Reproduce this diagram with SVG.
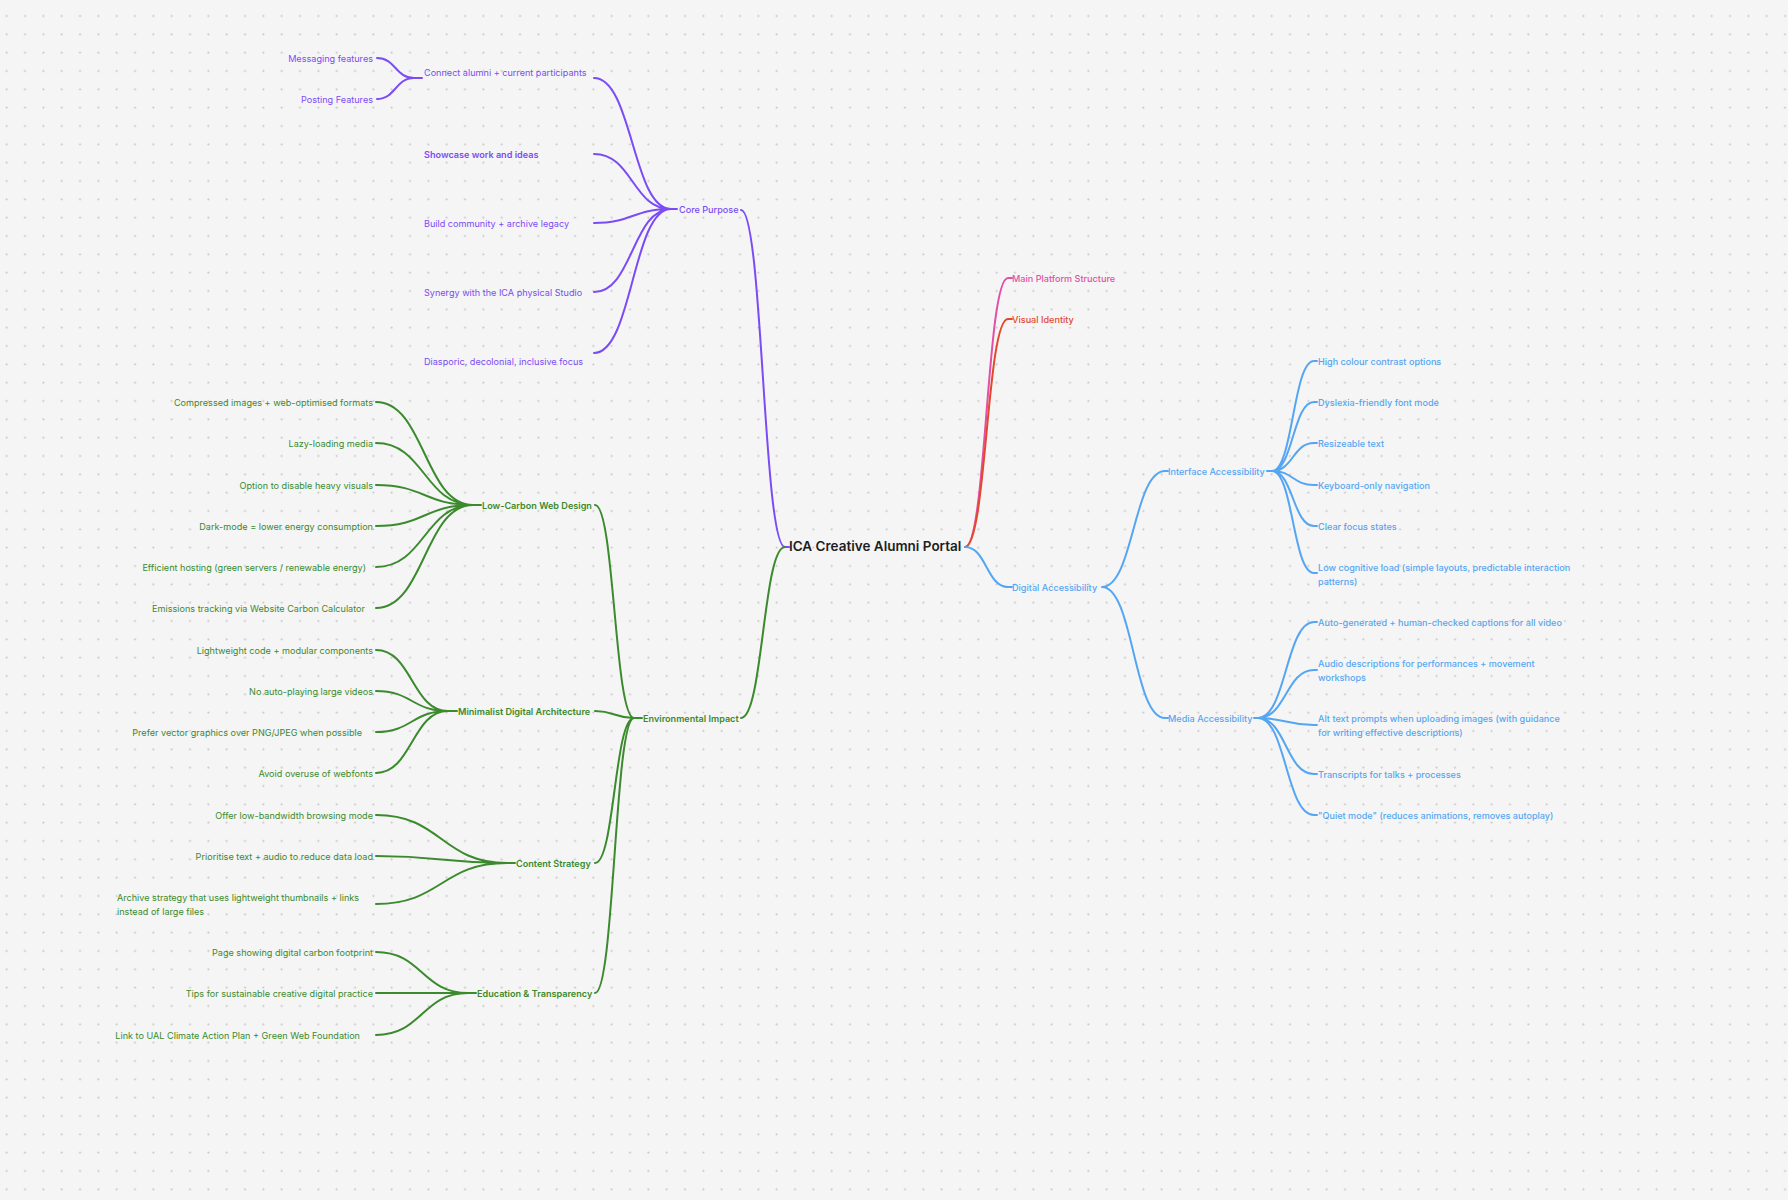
<svg xmlns="http://www.w3.org/2000/svg" width="1788" height="1200" viewBox="0 0 1788 1200">
<style>
text{font-family:Inter,"Liberation Sans",sans-serif;font-size:9.1px;dominant-baseline:central}
.p{fill:#7b4cf6}.g{fill:#3b8a2e}.b{fill:#55a6f2}.pk{fill:#e44fa6}.r{fill:#e2492c}
.sb{font-weight:600}.md{font-weight:500}
.root{font-size:13.5px;font-weight:600;fill:#1e1e1e}
.e{text-anchor:end}
path{fill:none;stroke-width:2;stroke-linecap:round}
.cp{stroke:#7b4cf6}.cg{stroke:#3b8a2e}.cb{stroke:#55a6f2}.cpk{stroke:#e44fa6}.cr{stroke:#e2492c}
</style>
<defs>
<pattern id="dots" patternUnits="userSpaceOnUse" x="-2.47" y="6.83" width="18.333" height="18.333">
<circle cx="9.17" cy="9.17" r="1" fill="#c2c2c2"/>
</pattern>
</defs>
<rect width="1788" height="1200" fill="#f5f5f5"/>
<rect width="1788" height="1200" fill="url(#dots)"/>

<g id="connectors">
<g class="cp">
<path d="M377 58 C395.5 58 395.5 78 414 78 M377 99 C395.5 99 395.5 78 414 78 M414 78 H422"/>
<path d="M594 78 C632.5 78 632.5 209 671 209 M594 154 C632.5 154 632.5 209 671 209 M594 223 C632.5 223 632.5 209 671 209 M594 292 C632.5 292 632.5 209 671 209 M594 353 C632.5 353 632.5 209 671 209 M671 209 H677"/>
<path d="M741 210 C763 210 763 547 785 547 H789"/>
</g>
<g class="cg">
<path d="M376 402 C424.5 402 424.5 505 473 505 M376 443 C424.5 443 424.5 505 473 505 M376 485 C424.5 485 424.5 505 473 505 M376 526 C424.5 526 424.5 505 473 505 M376 567 C424.5 567 424.5 505 473 505 M376 608 C424.5 608 424.5 505 473 505 M473 505 H481"/>
<path d="M376 650 C412 650 412 711 448 711 M376 691 C412 691 412 711 448 711 M376 732 C412 732 412 711 448 711 M376 773 C412 773 412 711 448 711 M448 711 H457"/>
<path d="M376 815 C441.5 815 441.5 863 507 863 M376 856 C441.5 856 441.5 863 507 863 M376 904 C441.5 904 441.5 863 507 863 M507 863 H515"/>
<path d="M376 952 C422 952 422 993 468 993 M376 993 H468 M376 1035 C422 1035 422 993 468 993 M468 993 H476"/>
<path d="M595 505 C614.5 505 614.5 718 634 718 M595 711 C614.5 711 614.5 718 634 718 M595 863 C614.5 863 614.5 718 634 718 M595 993 C614.5 993 614.5 718 634 718 M634 718 H642"/>
<path d="M741 718 C763 718 763 547 785 547"/>
</g>
<path class="cpk" d="M965 547 C986.5 547 986.5 278 1008 278 H1012"/>
<path class="cr" d="M965 547 C986.5 547 986.5 319 1008 319 H1012"/>
<g class="cb">
<path d="M965 547 C986.5 547 986.5 587 1008 587 H1012"/>
<path d="M1102 587 C1133.5 587 1133.5 471 1165 471 H1168 M1102 587 C1133.5 587 1133.5 718 1165 718 H1168"/>
<path d="M1267 471 H1272 M1272 471 C1293 471 1293 361 1314 361 M1272 471 C1293 471 1293 402 1314 402 M1272 471 C1293 471 1293 443 1314 443 M1272 471 C1293 471 1293 485 1314 485 M1272 471 C1293 471 1293 526 1314 526 M1272 471 C1293 471 1293 573 1314 573 M1314 361 H1317 M1314 402 H1317 M1314 443 H1317 M1314 485 H1317 M1314 526 H1317 M1314 573 H1317"/>
<path d="M1254 718 H1258 M1258 718 C1286 718 1286 622 1314 622 M1258 718 C1286 718 1286 670 1314 670 M1258 718 C1286 718 1286 725 1314 725 M1258 718 C1286 718 1286 774 1314 774 M1258 718 C1286 718 1286 815 1314 815 M1314 622 H1317 M1314 670 H1317 M1314 725 H1317 M1314 774 H1317 M1314 815 H1317"/>
</g>
</g>

<g id="root"><text class="root" x="789" y="546">ICA Creative Alumni Portal</text></g>

<g id="core-purpose"><text class="p md" x="679" y="209">Core Purpose</text></g>
<g id="connect-alumni"><text class="p" x="424" y="72">Connect alumni + current participants</text></g>
<g id="messaging"><text class="p e" x="373" y="58">Messaging features</text></g>
<g id="posting"><text class="p e" x="373" y="99">Posting Features</text></g>
<g id="showcase"><text class="p sb" x="424" y="154">Showcase work and ideas</text></g>
<g id="build-community"><text class="p" x="424" y="223">Build community + archive legacy</text></g>
<g id="synergy"><text class="p" x="424" y="292">Synergy with the ICA physical Studio</text></g>
<g id="diasporic"><text class="p" x="424" y="361">Diasporic, decolonial, inclusive focus</text></g>

<g id="environmental-impact"><text class="g sb" x="643" y="718">Environmental Impact</text></g>
<g id="low-carbon"><text class="g sb" x="482" y="505">Low-Carbon Web Design</text></g>
<g id="lc1"><text class="g e" x="373" y="402">Compressed images + web-optimised formats</text></g>
<g id="lc2"><text class="g e" x="373" y="443">Lazy-loading media</text></g>
<g id="lc3"><text class="g e" x="373" y="485">Option to disable heavy visuals</text></g>
<g id="lc4"><text class="g e" x="373" y="526">Dark-mode = lower energy consumption</text></g>
<g id="lc5"><text class="g e" x="366" y="567">Efficient hosting (green servers / renewable energy)</text></g>
<g id="lc6"><text class="g e" x="365" y="608">Emissions tracking via Website Carbon Calculator</text></g>

<g id="minimalist"><text class="g sb" x="458" y="711">Minimalist Digital Architecture</text></g>
<g id="ma1"><text class="g e" x="373" y="650">Lightweight code + modular components</text></g>
<g id="ma2"><text class="g e" x="373" y="691">No auto-playing large videos</text></g>
<g id="ma3"><text class="g e" x="362" y="732">Prefer vector graphics over PNG/JPEG when possible</text></g>
<g id="ma4"><text class="g e" x="373" y="773">Avoid overuse of webfonts</text></g>

<g id="content-strategy"><text class="g sb" x="516" y="863">Content Strategy</text></g>
<g id="cs1"><text class="g e" x="373" y="815">Offer low-bandwidth browsing mode</text></g>
<g id="cs2"><text class="g e" x="373" y="856">Prioritise text + audio to reduce data load</text></g>
<g id="cs3"><text class="g" x="117" y="897">Archive strategy that uses lightweight thumbnails + links<tspan x="117" dy="13.7">instead of large files</tspan></text></g>

<g id="education"><text class="g sb" x="477" y="993">Education &amp; Transparency</text></g>
<g id="ed1"><text class="g e" x="373" y="952">Page showing digital carbon footprint</text></g>
<g id="ed2"><text class="g e" x="373" y="993">Tips for sustainable creative digital practice</text></g>
<g id="ed3"><text class="g e" x="360" y="1035">Link to UAL Climate Action Plan + Green Web Foundation</text></g>

<g id="main-platform"><text class="pk md" x="1012" y="278">Main Platform Structure</text></g>
<g id="visual-identity"><text class="r md" x="1012" y="319">Visual Identity</text></g>

<g id="digital-accessibility"><text class="b md" x="1012" y="587">Digital Accessibility</text></g>
<g id="interface-accessibility"><text class="b md" x="1168" y="471">Interface Accessibility</text></g>
<g id="ia1"><text class="b md" x="1318" y="361">High colour contrast options</text></g>
<g id="ia2"><text class="b md" x="1318" y="402">Dyslexia-friendly font mode</text></g>
<g id="ia3"><text class="b md" x="1318" y="443">Resizeable text</text></g>
<g id="ia4"><text class="b md" x="1318" y="485">Keyboard-only navigation</text></g>
<g id="ia5"><text class="b md" x="1318" y="526">Clear focus states</text></g>
<g id="ia6"><text class="b md" x="1318" y="567">Low cognitive load (simple layouts, predictable interaction<tspan x="1318" dy="13.7">patterns)</tspan></text></g>

<g id="media-accessibility"><text class="b md" x="1168" y="718">Media Accessibility</text></g>
<g id="mda1"><text class="b md" x="1318" y="622">Auto-generated + human-checked captions for all video</text></g>
<g id="mda2"><text class="b md" x="1318" y="663">Audio descriptions for performances + movement<tspan x="1318" dy="13.7">workshops</tspan></text></g>
<g id="mda3"><text class="b md" x="1318" y="718">Alt text prompts when uploading images (with guidance<tspan x="1318" dy="13.7">for writing effective descriptions)</tspan></text></g>
<g id="mda4"><text class="b md" x="1318" y="774">Transcripts for talks + processes</text></g>
<g id="mda5"><text class="b md" x="1318" y="815">"Quiet mode" (reduces animations, removes autoplay)</text></g>
</svg>
